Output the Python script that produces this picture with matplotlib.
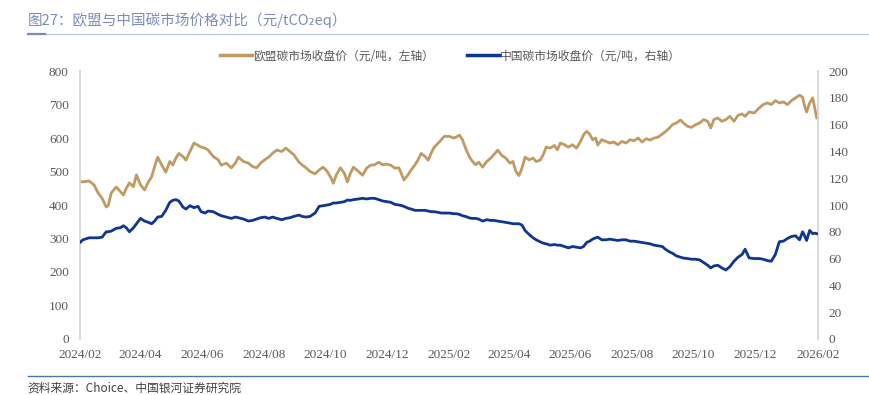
import matplotlib
matplotlib.use("Agg")
import matplotlib.pyplot as plt
import matplotlib.dates as mdates
from matplotlib.lines import Line2D
import pandas as pd

plt.rcParams['font.family'] = ['Noto Sans CJK SC', 'DejaVu Sans']

# 数据
dates = [
    "2024-02-01", "2024-02-04", "2024-02-10", "2024-02-15", "2024-02-19", "2024-02-23", "2024-02-27", "2024-02-29",
    "2024-03-03", "2024-03-08", "2024-03-12", "2024-03-15", "2024-03-18", "2024-03-21", "2024-03-25", "2024-03-28",
    "2024-04-01", "2024-04-05", "2024-04-09", "2024-04-12", "2024-04-15", "2024-04-18", "2024-04-22", "2024-04-26",
    "2024-04-30", "2024-05-03", "2024-05-06", "2024-05-09", "2024-05-13", "2024-05-16", "2024-05-20", "2024-05-24",
    "2024-05-28", "2024-05-31", "2024-06-04", "2024-06-07", "2024-06-12", "2024-06-17", "2024-06-20", "2024-06-25",
    "2024-06-30", "2024-07-04", "2024-07-07", "2024-07-12", "2024-07-17", "2024-07-21", "2024-07-25", "2024-07-29",
    "2024-08-02", "2024-08-06", "2024-08-10", "2024-08-14", "2024-08-19", "2024-08-23", "2024-08-27", "2024-08-31",
    "2024-09-05", "2024-09-08", "2024-09-12", "2024-09-16", "2024-09-21", "2024-09-25", "2024-09-29", "2024-10-03",
    "2024-10-06", "2024-10-09", "2024-10-12", "2024-10-16", "2024-10-20", "2024-10-23", "2024-10-26", "2024-10-29",
    "2024-11-03", "2024-11-07", "2024-11-11", "2024-11-15", "2024-11-19", "2024-11-23", "2024-11-27", "2024-12-01",
    "2024-12-05", "2024-12-09", "2024-12-13", "2024-12-16", "2024-12-18", "2024-12-22", "2024-12-25", "2024-12-29",
    "2025-01-01", "2025-01-04", "2025-01-08", "2025-01-11", "2025-01-14", "2025-01-17", "2025-01-21", "2025-01-24",
    "2025-01-27", "2025-02-01", "2025-02-05", "2025-02-08", "2025-02-11", "2025-02-14", "2025-02-17", "2025-02-21",
    "2025-02-24", "2025-02-27", "2025-03-02", "2025-03-06", "2025-03-10", "2025-03-14", "2025-03-17", "2025-03-21",
    "2025-03-25", "2025-03-29", "2025-04-02", "2025-04-05", "2025-04-08", "2025-04-11", "2025-04-14", "2025-04-17",
    "2025-04-21", "2025-04-25", "2025-04-28", "2025-05-02", "2025-05-05", "2025-05-08", "2025-05-12", "2025-05-16",
    "2025-05-19", "2025-05-22", "2025-05-26", "2025-05-30", "2025-06-03", "2025-06-07", "2025-06-11", "2025-06-14",
    "2025-06-17", "2025-06-20", "2025-06-23", "2025-06-26", "2025-06-28", "2025-07-02", "2025-07-06", "2025-07-10",
    "2025-07-14", "2025-07-18", "2025-07-22", "2025-07-26", "2025-07-30", "2025-08-03", "2025-08-07", "2025-08-11",
    "2025-08-15", "2025-08-19", "2025-08-23", "2025-08-27", "2025-08-31", "2025-09-03", "2025-09-07", "2025-09-10",
    "2025-09-14", "2025-09-18", "2025-09-21", "2025-09-25", "2025-09-29", "2025-10-03", "2025-10-07", "2025-10-11",
    "2025-10-15", "2025-10-18", "2025-10-21", "2025-10-25", "2025-10-29", "2025-11-02", "2025-11-06", "2025-11-10",
    "2025-11-14", "2025-11-18", "2025-11-21", "2025-11-25", "2025-11-30", "2025-12-05", "2025-12-09", "2025-12-13",
    "2025-12-17", "2025-12-21", "2025-12-25", "2025-12-29", "2026-01-02", "2026-01-06", "2026-01-10", "2026-01-14",
    "2026-01-17", "2026-01-19", "2026-01-21", "2026-01-24", "2026-01-27", "2026-01-29", "2026-01-31",
]

eu_price = [
    470, 469, 472, 460, 436, 420, 394, 398,
    436, 454, 440, 430, 450, 466, 455, 490,
    460, 445, 470, 484, 515, 543, 520, 498,
    530, 519, 540, 554, 545, 534, 560, 585,
    578, 573, 570, 564, 545, 535, 519, 525,
    511, 525, 543, 530, 525, 515, 511, 525,
    535, 543, 555, 564, 560, 570, 560, 550,
    528, 520, 511, 500, 493, 505, 513, 500,
    485, 465, 490, 511, 495, 469, 495, 513,
    500, 489, 510, 519, 520, 528, 520, 522,
    519, 510, 511, 490, 475, 490, 504, 520,
    535, 554, 545, 534, 555, 573, 585, 595,
    605, 605, 600, 603, 609, 595, 570, 543,
    530, 520, 528, 513, 530, 540, 550, 564,
    548, 540, 525, 530, 500, 488, 510, 543,
    535, 540, 530, 534, 550, 573, 570, 578,
    565, 585, 580, 573, 580, 570, 590, 610,
    620, 612, 595, 600, 579, 595, 590, 585,
    588, 580, 590, 585, 595, 592, 600, 588,
    598, 594, 600, 603, 612, 619, 630, 640,
    645, 654, 645, 635, 632, 640, 645, 655,
    650, 630, 655, 660, 650, 655, 665, 650,
    668, 672, 665, 678, 675, 690, 700, 705,
    700, 712, 705, 708, 700, 712, 720, 728,
    722, 695, 678, 705, 720, 690, 660,
]

cn_price = [
    72, 74, 75.5, 75.5, 75.5, 76, 80, 80,
    80.5, 82.6, 83, 84.5, 83, 80, 83, 86,
    90, 88, 87, 86, 88, 91, 91.5, 96,
    102, 103.5, 104, 103, 98.5, 97, 99.5, 98,
    99, 95, 94, 95.5, 95, 93, 92, 91,
    90, 91, 90.5, 89.5, 88, 88.5, 89.5, 90.5,
    91, 90, 91, 90, 89, 90, 90.5, 91.5,
    92.5, 91.5, 91, 91.5, 94, 99, 99.5, 100,
    100.5, 101.5, 101.5, 102, 102.5, 103.7, 103.5, 104,
    104.5, 105, 104.5, 105, 105, 104, 103, 102.5,
    102, 100.5, 100, 99.5, 99, 97.6, 97, 96,
    96, 96, 96, 95.5, 95, 95, 94.5, 94,
    94, 94, 93.5, 93.5, 93, 92, 91.5, 90.3,
    90, 90, 89.5, 88, 89, 88.5, 88.5, 88,
    87.5, 87, 86.5, 86, 86, 86, 85, 81,
    78, 75.5, 74, 72.5, 71.5, 71, 70, 70.5,
    70, 70, 69, 68, 69, 68.5, 68, 69,
    72, 73, 74.5, 75.5, 76, 74, 74, 74.5,
    74, 73.5, 74, 74, 73, 73, 72.5, 72,
    71.5, 71, 70, 69.5, 69, 67, 65, 64,
    62, 61, 60.4, 60, 59.5, 59.5, 59, 57,
    55, 53, 54.5, 55, 53, 51.5, 54, 58,
    61, 63, 67, 60.5, 60, 60, 59.5, 58.5,
    58, 63, 72.6, 73, 75, 76.5, 77, 74,
    80, 77, 73.5, 81, 78.6, 79, 78.6,
]

tick_months = pd.date_range("2024-02-01", "2026-02-01", freq="2MS")
tick_labels = [d.strftime("%Y/%m") for d in tick_months]

x = pd.to_datetime(dates)

fig = plt.figure(figsize=(8.69, 3.95), dpi=100)
ax = fig.add_axes([0.092, 0.142, 0.849, 0.678])
ax2 = ax.twinx()

eu_color = "#c09a62"
cn_color = "#0e3590"
grey = "#595959"

ax.plot(x, eu_price, color=eu_color, lw=2.0, zorder=3)
ax2.plot(x, cn_price, color=cn_color, lw=2.0, zorder=3)

ax.set_xlim(pd.Timestamp("2024-02-01"), pd.Timestamp("2026-02-01"))
ax.set_ylim(0, 800)
ax2.set_ylim(0, 200)
ax.set_yticks(range(0, 801, 100))
ax2.set_yticks(range(0, 201, 20))
ax.set_xticks(tick_months)
ax.set_xticklabels(tick_labels)

for a in (ax, ax2):
    for s in ("top", "bottom"):
        a.spines[s].set_visible(False)
    a.spines["left"].set_color("#d9d9d9")
    a.spines["right"].set_color("#d9d9d9")
    a.spines["left"].set_linewidth(1.2)
    a.spines["right"].set_linewidth(1.2)
    a.tick_params(length=0, labelcolor=grey, labelsize=9.5)
    for lab in a.get_xticklabels() + a.get_yticklabels():
        lab.set_family("Liberation Serif")
ax.tick_params(axis="y", pad=8)
ax2.tick_params(axis="y", pad=8)
ax.tick_params(axis="x", pad=7)

handles = [Line2D([], [], color=eu_color, lw=2.5), Line2D([], [], color=cn_color, lw=2.5)]
labels = ["欧盟碳市场收盘价（元/吨，左轴）", "中国碳市场收盘价（元/吨，右轴）"]
fig.legend(handles, labels, loc="center", bbox_to_anchor=(0.518, 0.858), ncol=2,
           frameon=False, fontsize=8.5, handlelength=2.7, handletextpad=0.1,
           columnspacing=2.8, labelcolor=grey)

# 标题与分隔线
fig.text(0.032, 0.948, "图27：欧盟与中国碳市场价格对比（元/tCO₂eq）", fontsize=10.5,
         color="#7b8cb5", va="center", ha="left", family=["Noto Sans CJK SC", "DejaVu Sans"])
fig.add_artist(Line2D([0.032, 1.0], [0.915, 0.915], color="#b4bfd8", lw=0.8))
fig.add_artist(Line2D([0.032, 0.052], [0.915, 0.915], color="#7b8cb5", lw=1.6))

fig.add_artist(Line2D([0.032, 1.0], [0.048, 0.048], color="#4f74a8", lw=1.0))
fig.text(0.032, 0.018, "资料来源：Choice、中国银河证券研究院", fontsize=8.5,
         color="#404040", va="center", ha="left", style="italic")

fig.savefig("out.png", dpi=100)
